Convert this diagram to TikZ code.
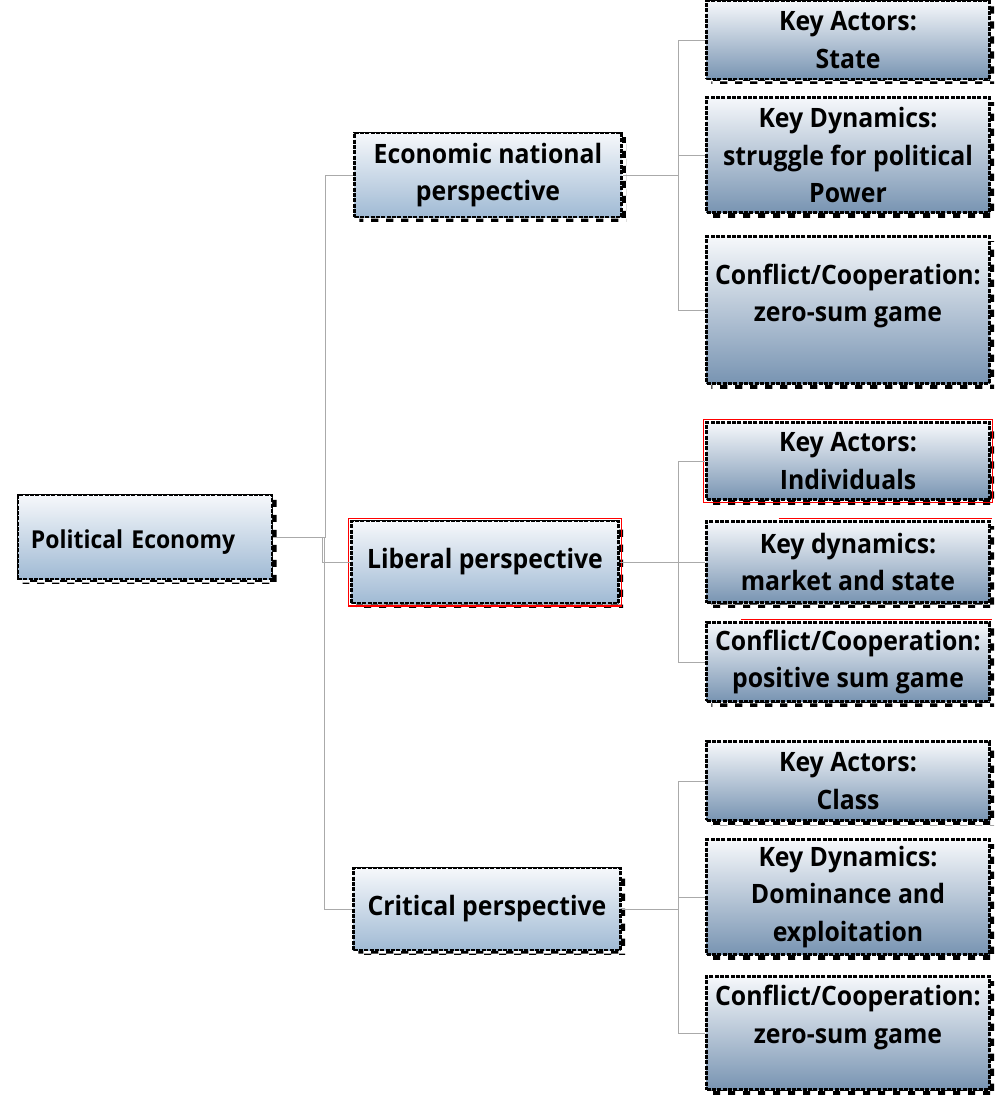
\documentclass[tikz,border=0pt]{standalone}
\usepackage{fontspec}
\setmainfont{Open Sans}[FakeStretch=0.93]
\usetikzlibrary{shadows,patterns}
\definecolor{boxtop}{RGB}{246,248,251}
\definecolor{boxlow}{RGB}{120,148,178}
\definecolor{boxmid}{RGB}{160,186,212}
\definecolor{linkgray}{RGB}{170,170,170}

\begin{document}
\begin{tikzpicture}[x=0.75pt,y=-0.75pt,
    font=\fontsize{20}{28}\selectfont\bfseries,
    box/.style={rectangle,draw=black,line width=2.2pt,dash pattern=on 3pt off 1pt,
      preaction={draw=black,line width=1pt,solid},
      top color=boxtop,bottom color=boxlow,align=center,inner sep=1pt,
      general shadow={shadow xshift=3.5pt,shadow yshift=-3.5pt,pattern=checkerboard,pattern color=black}},
    leaf/.style={box,minimum width=212pt},
    mid/.style={box,bottom color=boxmid,minimum width=200pt},
    root/.style={box,bottom color=boxmid,minimum width=190.5pt,minimum height=63pt,
      text width=171pt,align=left,text height=22pt,font=\fontsize{18.5}{24}\selectfont\bfseries},
    link/.style={draw=linkgray,line width=0.6pt},
    redrim/.style={draw=red,line width=0.8pt}]
  \useasboundingbox (0,0) rectangle (999,1097);

  % root
  \node[root] (pe) at (145,537) {Political Economy};

  % perspectives
  \node[mid,minimum height=63pt] (econ) at (488,175) {Economic national\\perspective};
  \node[mid,minimum height=61.5pt] (lib) at (485,562) {Liberal perspective};
  \node[mid,minimum height=61.5pt] (crit) at (487,909) {Critical perspective};

  % economic national
  \node[leaf,minimum height=58.5pt] (actA) at (848,40) {Key Actors:\\State};
  \node[leaf,minimum height=86pt] (dynA) at (848,155) {Key Dynamics:\\struggle for political\\Power};
  \node[leaf,minimum height=110pt,text depth=26pt] (confA) at (848,310) {Conflict/Cooperation:\\zero-sum game};

  % liberal
  \node[leaf,minimum height=58pt] (actB) at (848,461) {Key Actors:\\Individuals};
  \node[leaf,minimum height=61pt] (dynB) at (848,562) {Key dynamics:\\market and state};
  \node[leaf,minimum height=59pt] (confB) at (848,662) {Conflict/Cooperation:\\positive sum game};

  % critical
  \node[leaf,minimum height=59pt] (actC) at (848,781) {Key Actors:\\Class};
  \node[leaf,minimum height=86pt] (dynC) at (848,897) {Key Dynamics:\\Dominance and\\exploitation};
  \node[leaf,minimum height=85pt,text depth=28pt] (confC) at (848,1033) {Conflict/Cooperation:\\zero-sum game};

  % red rims
  \draw[redrim] ([shift={(-1.5,-1.5)}]lib.north west) rectangle ([shift={(1.5,1.5)}]lib.south east);
  \draw[redrim] ([shift={(-1.5,-1.5)}]actB.north west) rectangle ([shift={(1.5,1.5)}]actB.south east);
  \draw[redrim] ([shift={(55pt,-1.5)}]dynB.north west) -- ([shift={(1.5,-1.5)}]dynB.north east);
  \draw[redrim] ([shift={(27pt,-1.5)}]confB.north west) -- ([shift={(1.5,-1.5)}]confB.north east);

  % connectors
  \foreach \p in {econ,lib,crit}
    \draw[link] (pe.east) -| ([xshift=-21pt]\p.west) -- (\p.west);
  \foreach \n in {actA,dynA,confA}
    \draw[link] (econ.east) -| ([xshift=-20.25pt]\n.west) -- (\n.west);
  \foreach \n in {actB,dynB,confB}
    \draw[link] (lib.east) -| ([xshift=-20.25pt]\n.west) -- (\n.west);
  \foreach \n in {actC,dynC,confC}
    \draw[link] (crit.east) -| ([xshift=-20.25pt]\n.west) -- (\n.west);
\end{tikzpicture}
\end{document}
